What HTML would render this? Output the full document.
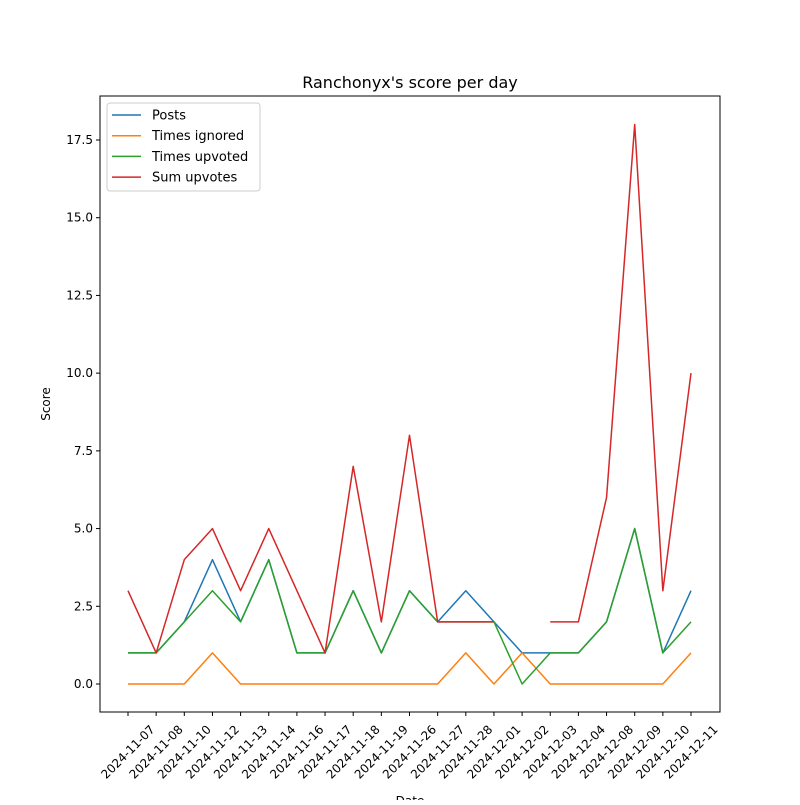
<!DOCTYPE html>
<html><head><meta charset="utf-8"><style>body{margin:0;background:#fff}svg{font-family:"DejaVu Sans","Liberation Sans",sans-serif}</style></head>
<body>
<svg id="c" width="800" height="800" xmlns="http://www.w3.org/2000/svg"></svg>
<script>
const dates=["2024-11-07","2024-11-08","2024-11-10","2024-11-12","2024-11-13","2024-11-14","2024-11-16","2024-11-17","2024-11-18","2024-11-19","2024-11-26","2024-11-27","2024-11-28","2024-12-01","2024-12-02","2024-12-03","2024-12-04","2024-12-08","2024-12-09","2024-12-10","2024-12-11"];
const posts=[1,1,2,4,2,4,1,1,3,1,3,2,3,2,1,1,1,2,5,1,3];
const ignored=[0,0,0,1,0,0,0,0,0,0,0,0,1,0,1,0,0,0,0,0,1];
const upvoted=[1,1,2,3,2,4,1,1,3,1,3,2,2,2,0,1,1,2,5,1,2];
const sumUp=[3,1,4,5,3,5,3,1,7,2,8,2,2,2,null,2,2,6,18,3,10];
const yTicks=[0,2.5,5,7.5,10,12.5,15,17.5];
const seriesNames=["Posts","Times ignored","Times upvoted","Sum upvotes"];
const colors=["#1f77b4","#ff7f0e","#2ca02c","#d62728"];
const svg=document.getElementById('c');const NS="http://www.w3.org/2000/svg";
function mk(t,a,p){const e=document.createElementNS(NS,t);for(const k in a)e.setAttribute(k,a[k]);(p||svg).appendChild(e);return e;}
const L=100,R=720,T=96,B=712;
const x=i=>128+i*(691-128)/(dates.length-1);
const y=v=>684-v*(684-140)/17.5;
let t=mk('text',{x:410,y:88,'text-anchor':'middle','font-size':16});t.textContent="Ranchonyx's score per day";

[posts,ignored,upvoted,sumUp].forEach((s,k)=>{let d="",pen=false;s.forEach((v,i)=>{if(v==null){pen=false;return;}d+=(pen?"L":"M")+x(i)+","+y(v);pen=true;});
const p=mk('path',{d:d,fill:'none',stroke:colors[k],'stroke-width':1.5,'stroke-linejoin':'round'});

});
const ax=mk('rect',{x:L,y:T,width:R-L,height:B-T,fill:'none',stroke:'#000','stroke-width':1});

yTicks.forEach(v=>{mk('line',{x1:L-4,x2:L,y1:y(v),y2:y(v),stroke:'#000'});const tt=mk('text',{x:L-7,y:y(v)+4,'text-anchor':'end','font-size':12});tt.textContent=v.toFixed(1);
});
dates.forEach((d,i)=>{mk('line',{x1:x(i),x2:x(i),y1:B,y2:B+4,stroke:'#000'});const cx=x(i),cy=B+40;const tt=mk('text',{x:cx,y:cy+4,'text-anchor':'middle','font-size':12,transform:`rotate(-45 ${cx} ${cy})`});tt.textContent=d;
});
t=mk('text',{x:0,y:0,'text-anchor':'middle','font-size':12,transform:'translate(50 404) rotate(-90)'});t.textContent="Score";

t=mk('text',{x:410,y:805,'text-anchor':'middle','font-size':12});t.textContent="Date";

const lg=mk('g',{});
mk('rect',{x:107,y:103,width:153,height:88,rx:3,fill:'#fff',stroke:'#ccc'},lg);
seriesNames.forEach((n,k)=>{const yy=115+k*20.7;mk('line',{x1:112,x2:141,y1:yy,y2:yy,stroke:colors[k],'stroke-width':1.5},lg);
const tt=mk('text',{x:152,y:yy+4.5,'font-size':13},lg);tt.textContent=n;
});
</script>
</body></html>
